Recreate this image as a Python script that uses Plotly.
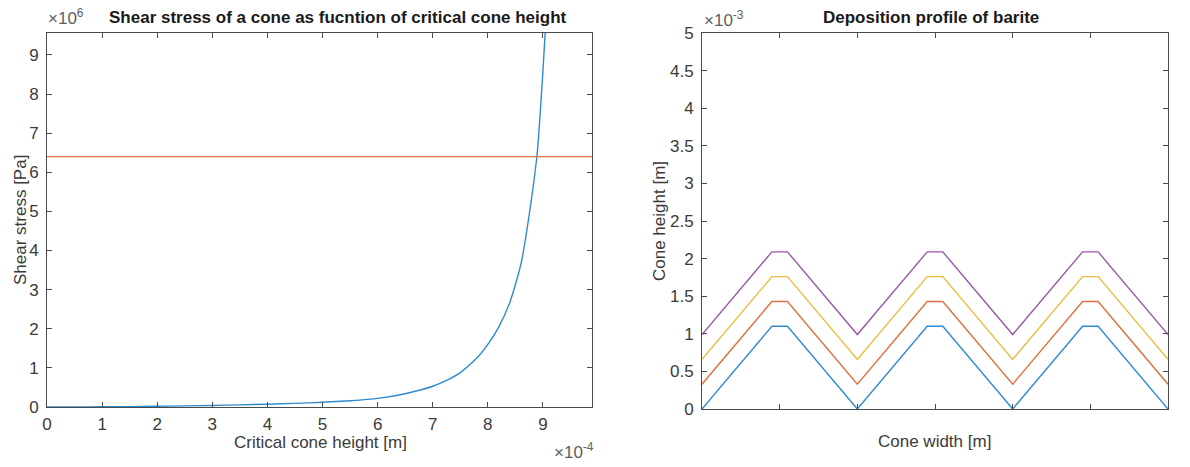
import plotly.graph_objects as go

W, H = 1190, 467

# ---- left panel: shear stress vs critical cone height ----
cone_height = [0.0, 0.5e-4, 1.0e-4, 1.5e-4, 2.0e-4, 2.5e-4, 3.0e-4, 3.5e-4, 4.0e-4,
               4.5e-4, 5.0e-4, 5.5e-4, 6.0e-4, 6.5e-4, 7.0e-4, 7.25e-4, 7.5e-4, 7.8e-4,
               8.0e-4, 8.2e-4, 8.4e-4, 8.6e-4, 8.8e-4, 8.9e-4, 9.0e-4, 9.05e-4]
shear_stress = [0.0, 0.002e6, 0.005e6, 0.010e6, 0.018e6, 0.028e6, 0.040e6, 0.055e6, 0.072e6,
                0.092e6, 0.12e6, 0.16e6, 0.22e6, 0.34e6, 0.53e6, 0.68e6, 0.88e6, 1.25e6,
                1.60e6, 2.05e6, 2.68e6, 3.65e6, 5.40e6, 6.55e6, 8.60e6, 9.80e6]
yield_stress = 6.4e6
x_range_left = [0.0, 9.89e-4]
y_range_left = [0.0, 9.56e6]
x_ticks_left = [i * 1e-4 for i in range(10)]
x_ticktext_left = [str(i) for i in range(10)]
y_ticks_left = [i * 1e6 for i in range(10)]
y_ticktext_left = [str(i) for i in range(10)]

# ---- right panel: deposition profile ----
cone_width = [0, 0.9, 1.1, 2, 2.9, 3.1, 4, 4.9, 5.1, 6]
profile_1 = [0.0, 1.10e-3, 1.10e-3, 0.0, 1.10e-3, 1.10e-3, 0.0, 1.10e-3, 1.10e-3, 0.0]
profile_2 = [0.33e-3, 1.43e-3, 1.43e-3, 0.33e-3, 1.43e-3, 1.43e-3, 0.33e-3, 1.43e-3, 1.43e-3, 0.33e-3]
profile_3 = [0.66e-3, 1.76e-3, 1.76e-3, 0.66e-3, 1.76e-3, 1.76e-3, 0.66e-3, 1.76e-3, 1.76e-3, 0.66e-3]
profile_4 = [0.99e-3, 2.09e-3, 2.09e-3, 0.99e-3, 2.09e-3, 2.09e-3, 0.99e-3, 2.09e-3, 2.09e-3, 0.99e-3]
y_ticks_right = [i * 0.5e-3 for i in range(11)]
y_ticktext_right = ["0", "0.5", "1", "1.5", "2", "2.5", "3", "3.5", "4", "4.5", "5"]
x_ticks_right = [0, 1, 2, 3, 4, 5, 6]

C_BLUE = "#2f8bd0"
C_ORANGE = "#e0703f"
C_YELLOW = "#eebb3c"
C_PURPLE = "#9a5aa8"
AXIS_COL = "#4a4a4a"
TEXT_COL = "#3a3a3a"
FONT = "Liberation Sans Narrow, Liberation Sans, Arial, sans-serif"
FS = 17

fig = go.Figure()
fig.add_trace(go.Scatter(x=cone_height, y=shear_stress, mode="lines",
                         line=dict(color=C_BLUE, width=1.4, shape="spline", smoothing=0.6),
                         xaxis="x", yaxis="y"))
fig.add_trace(go.Scatter(x=x_range_left, y=[yield_stress, yield_stress], mode="lines",
                         line=dict(color=C_ORANGE, width=1.4), xaxis="x", yaxis="y"))

for prof, col in [(profile_1, C_BLUE), (profile_2, C_ORANGE),
                  (profile_3, C_YELLOW), (profile_4, C_PURPLE)]:
    fig.add_trace(go.Scatter(x=cone_width, y=prof, mode="lines",
                             line=dict(color=col, width=1.4), xaxis="x2", yaxis="y2"))


def px_x(p):
    return p / W


def px_y(p):
    return 1 - p / H


common = dict(showgrid=False, zeroline=False, showline=True, linecolor=AXIS_COL,
              linewidth=1, mirror="ticks", ticks="inside", ticklen=5, tickcolor=AXIS_COL,
              tickwidth=1, automargin=False,
              tickfont=dict(family=FONT, size=FS, color=TEXT_COL))

fig.update_layout(
    width=W, height=H,
    autosize=False,
    margin=dict(l=0, r=0, t=0, b=0, pad=0, autoexpand=False),
    paper_bgcolor="white", plot_bgcolor="white",
    showlegend=False,
    font=dict(family=FONT, size=FS, color=TEXT_COL),
    xaxis=dict(domain=[px_x(47), px_x(592)], range=x_range_left, anchor="y",
               tickmode="array", tickvals=x_ticks_left, ticktext=x_ticktext_left,
               ticklabelstandoff=2, **common),
    yaxis=dict(domain=[px_y(407), px_y(33)], range=y_range_left, anchor="x",
               tickmode="array", tickvals=y_ticks_left, ticktext=y_ticktext_left,
               ticklabelstandoff=4, **common),
    xaxis2=dict(domain=[px_x(702), px_x(1168)], range=[0, 6], anchor="y2",
                tickmode="array", tickvals=x_ticks_right, showticklabels=False, **common),
    yaxis2=dict(domain=[px_y(409), px_y(33)], range=[0, 5e-3], anchor="x2",
                tickmode="array", tickvals=y_ticks_right, ticktext=y_ticktext_right,
                ticklabelstandoff=4, **common),
)

annotations = [
    dict(text="<b>Shear stress of a cone as fucntion of critical cone height</b>",
         x=px_x(338), y=px_y(18), font=dict(family=FONT, size=FS, color="#1a1a1a")),
    dict(text="<b>Deposition profile of barite</b>",
         x=px_x(931), y=px_y(18), font=dict(family=FONT, size=FS, color="#1a1a1a")),
    dict(text="Critical cone height [m]", x=px_x(320), y=px_y(442)),
    dict(text="Shear stress [Pa]", x=px_x(20), y=px_y(220), textangle=-90),
    dict(text="Cone width [m]", x=px_x(934), y=px_y(441)),
    dict(text="Cone height [m]", x=px_x(659), y=px_y(221), textangle=-90),
    dict(text="×10<sup>6</sup>", x=px_x(66), y=px_y(17), font=dict(family=FONT, size=FS, color="#606060")),
    dict(text="×10<sup>-4</sup>", x=px_x(574), y=px_y(451), font=dict(family=FONT, size=FS, color="#606060")),
    dict(text="×10<sup>-3</sup>", x=px_x(724), y=px_y(19), font=dict(family=FONT, size=FS, color="#606060")),
]
for a in annotations:
    base = dict(xref="paper", yref="paper", showarrow=False, xanchor="center", yanchor="middle",
                font=dict(family=FONT, size=FS, color=TEXT_COL))
    base.update(a)
    fig.add_annotation(**base)

fig.write_html("out.html")
